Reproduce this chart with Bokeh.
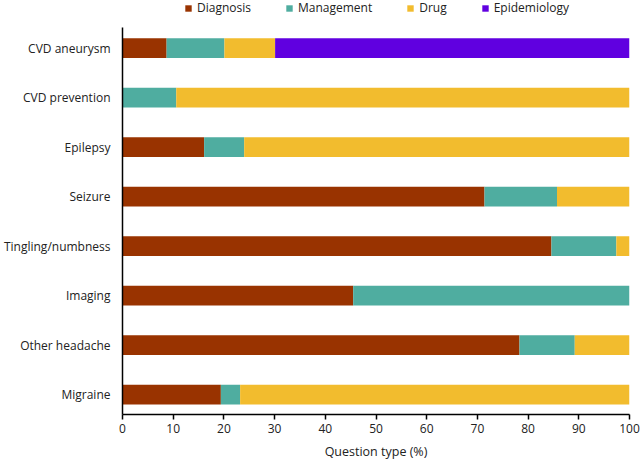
from bokeh.plotting import figure
from bokeh.models import ColumnDataSource, Legend, LegendItem, FixedTicker, Range1d
from bokeh.embed import file_html
from bokeh.resources import INLINE

categories = ["Migraine", "Other headache", "Imaging", "Tingling/numbness",
              "Seizure", "Epilepsy", "CVD prevention", "CVD aneurysm"]
diagnosis = [19.4, 78.3, 45.5, 84.6, 71.4, 16.1, 0.0, 8.7]
management = [3.8, 10.9, 54.5, 12.8, 14.3, 7.9, 10.6, 11.4]
drug = [76.8, 10.8, 0.0, 2.6, 14.3, 76.0, 89.4, 10.0]
epidemiology = [0.0, 0.0, 0.0, 0.0, 0.0, 0.0, 0.0, 69.9]
series_names = ["Diagnosis", "Management", "Drug", "Epidemiology"]
colors = ["#993300", "#4fada0", "#f2bc2e", "#6000e0"]
x_ticks = [0, 10, 20, 30, 40, 50, 60, 70, 80, 90, 100]

FONT = "Open Sans"
TXT = "#222222"

W, H = 640, 465
B_LEFT, B_RIGHT, B_TOP, B_BOTTOM = 121, 11, 0, 51
FRAME_H = H - B_TOP - B_BOTTOM
Y_LO, Y_AXIS_HI, Y_TOP = -0.4, 7.41, 7.96

ypos = list(range(len(categories)))
data = dict(y=ypos, Diagnosis=diagnosis, Management=management,
            Drug=drug, Epidemiology=epidemiology)
source = ColumnDataSource(data)

p = figure(width=W, height=H, output_backend="svg", toolbar_location=None,
           x_range=Range1d(0, 100), y_range=Range1d(Y_LO, Y_TOP),
           min_border_left=B_LEFT, min_border_right=B_RIGHT, min_border_top=B_TOP,
           min_border_bottom=B_BOTTOM)
p.outline_line_color = None
p.xgrid.visible = False
p.ygrid.visible = False

renderers = p.hbar_stack(series_names, y="y", height=0.4, color=colors,
                         line_color=None, source=source)

# axes
p.xaxis.ticker = FixedTicker(ticks=x_ticks)
p.xaxis.axis_label = "Question type (%)"
p.xaxis.axis_label_text_font = FONT
p.xaxis.axis_label_text_font_style = "normal"
p.xaxis.axis_label_text_font_size = "12.5px"
p.xaxis.axis_label_text_color = TXT
p.xaxis.axis_label_standoff = 7
p.xaxis.major_label_text_font = FONT
p.xaxis.major_label_text_font_size = "12px"
p.xaxis.major_label_text_color = TXT
p.xaxis.major_label_standoff = 4
p.xaxis.axis_line_color = "black"
p.xaxis.axis_line_width = 1.5
p.xaxis.major_tick_line_color = "black"
p.xaxis.major_tick_line_width = 1.5
p.xaxis.major_tick_out = 5
p.xaxis.major_tick_in = 0
p.xaxis.minor_tick_line_color = None

p.yaxis.ticker = FixedTicker(ticks=ypos)
p.yaxis.bounds = (Y_LO, Y_AXIS_HI)
p.yaxis.major_label_overrides = {i: c for i, c in enumerate(categories)}
p.yaxis.major_label_text_font = FONT
p.yaxis.major_label_text_font_size = "12px"
p.yaxis.major_label_text_color = TXT
p.yaxis.major_label_standoff = 6
p.yaxis.axis_line_color = "black"
p.yaxis.axis_line_width = 1.5
p.yaxis.major_tick_line_color = None
p.yaxis.minor_tick_line_color = None

legend = Legend(items=[LegendItem(label=n, renderers=[r]) for n, r in zip(series_names, renderers)],
                orientation="horizontal", location=(62, FRAME_H - 16),
                glyph_width=8, glyph_height=8, label_standoff=5, spacing=34,
                label_text_font=FONT, label_text_font_size="12px",
                label_text_color=TXT, label_height=12,
                padding=0, margin=0, border_line_color=None,
                background_fill_alpha=0)
p.add_layout(legend, "center")

open("out.html", "w").write(file_html(p, INLINE))
